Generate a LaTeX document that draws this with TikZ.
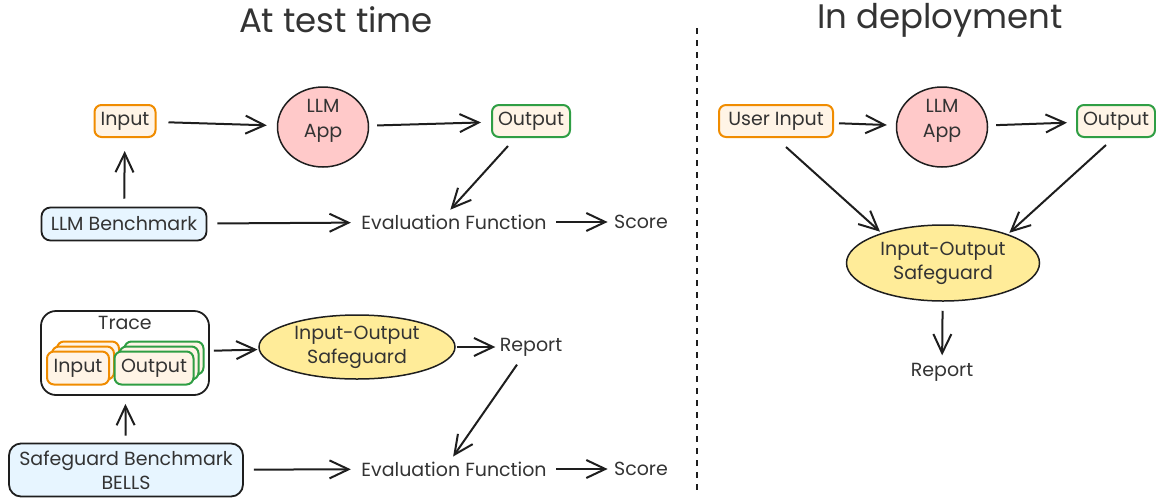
\documentclass[tikz,border=0pt]{standalone}
\usepackage{fontspec}
\setmainfont{Poppins}
\usetikzlibrary{arrows.meta, shapes.geometric}

\definecolor{ink}{HTML}{1E1E1E}
\definecolor{txt}{HTML}{333333}
\definecolor{inorange}{HTML}{F08C00}
\definecolor{outgreen}{HTML}{2F9E44}
\definecolor{cream}{HTML}{FFF4E6}
\definecolor{benchblue}{HTML}{E7F5FF}
\definecolor{apppink}{HTML}{FFC9C9}
\definecolor{guardyellow}{HTML}{FFEC99}

\begin{document}
\begin{tikzpicture}[x=1pt,y=-1pt,
  >={Straight Barb[length=19pt,width=18pt]},
  every node/.style={text=txt, font=\fontsize{19}{24}\selectfont},
  card/.style={rectangle, rounded corners=7pt, line width=2pt, minimum height=32pt, inner sep=2pt, fill=cream},
  inbox/.style={card, draw=inorange},
  outbox/.style={card, draw=outgreen},
  benchbox/.style={rectangle, rounded corners=9pt, line width=1.8pt, draw=ink, fill=benchblue, align=center, inner sep=2pt},
  llmapp/.style={ellipse, draw=ink, line width=1.5pt, fill=apppink, minimum width=91pt, minimum height=80pt, inner sep=0pt},
  applbl/.style={align=center, font=\fontsize{19}{25}\selectfont},
  safeguard/.style={ellipse, draw=ink, line width=1.5pt, fill=guardyellow, align=center, inner sep=0pt},
  flow/.style={->, line width=2pt, draw=ink, shorten >=10pt, shorten <=10pt},
  headline/.style={font=\fontsize{34}{38}\selectfont}]
  \useasboundingbox (0,0) rectangle (1156,499);

  % Titel und Trennlinie
  \node[headline] (testtitle) at (336,20) {At test time};
  \node[headline] (deptitle) at (940,20) {In deployment};
  \coordinate (sepTop) at (697,28);
  \coordinate (sepBot) at (697,491);
  \draw[dashed, line width=1.2pt, draw=ink, dash pattern=on 6pt off 6pt] (sepTop) -- (sepBot);

  % Test: LLM Benchmark
  \node[inbox, minimum width=61pt] (in) at (125,121) {Input};
  \node[llmapp] (app) at (323,127) {};
  \node[applbl] (applbl) at (323,121) {LLM\\App};
  \node[outbox, minimum width=78pt] (out) at (531,121) {Output};
  \node[benchbox, minimum width=165pt, minimum height=33pt] (bench) at (124,224) {LLM Benchmark};
  \node (eval) at (454,222) {Evaluation Function};
  \node (score) at (641,222) {Score};

  \draw[flow, shorten <=12pt] (in) -- (app);
  \draw[flow, shorten <=8pt] (app) -- (out);
  \draw[flow, shorten <=8pt, shorten >=13pt] (bench) -- (in);
  \draw[flow, shorten >=7pt] (bench) -- (eval);
  \draw[flow, shorten <=6pt, shorten >=3pt] (eval) -- (score);
  \draw[flow, shorten <=0pt, shorten >=2pt] ([xshift=-23pt,yshift=-8pt]out.south) -- ([xshift=-5pt]eval.north);

  % Test: Safeguard Benchmark
  \node[draw=ink, line width=1.8pt, rounded corners=15pt, minimum width=168pt, minimum height=84pt] (trace) at (125,353) {};
  \node (tracelbl) at (125,323) {Trace};
  \foreach \k in {2,1,0}
    \node[inbox, minimum width=62pt, minimum height=33pt] (tin\k) at (78+5*\k,368-5*\k) {\ifnum\k=0 Input\fi};
  \foreach \k in {2,1,0}
    \node[outbox, minimum width=79pt, minimum height=33pt] (tout\k) at (154+5*\k,368-5*\k) {\ifnum\k=0 Output\fi};
  \node[safeguard, minimum width=196pt, minimum height=64pt] (guard) at (357,347) {Input-Output\\Safeguard};
  \node (report) at (531,347) {Report};
  \node[benchbox, minimum width=234pt, minimum height=53pt, rounded corners=12pt, font=\fontsize{19}{24}\selectfont] (sbench) at (126,470) {Safeguard Benchmark\\BELLS};
  \node (eval2) at (454,469) {Evaluation Function};
  \node (score2) at (641,469) {Score};

  \draw[flow, shorten <=4pt, shorten >=1pt] (trace) -- (guard);
  \draw[flow, shorten <=1pt, shorten >=1pt] (guard) -- (report);
  \draw[flow, shorten <=7pt, shorten >=8pt] (sbench) -- (trace);
  \draw[flow, shorten >=7pt] (sbench) -- (eval2);
  \draw[flow, shorten <=6pt, shorten >=3pt] (eval2) -- (score2);
  \draw[flow, shorten <=0pt, shorten >=2pt] ([xshift=-14pt,yshift=-5pt]report.south) -- ([xshift=-2pt]eval2.north);

  % Einsatz
  \node[inbox, minimum width=114pt] (uin) at (776,121) {User Input};
  \node[llmapp] (app2) at (942,127) {};
  \node[applbl] (applbl2) at (942,121) {LLM\\App};
  \node[outbox, minimum width=78pt] (out2) at (1116,121) {Output};
  \node[safeguard, minimum width=193pt, minimum height=76pt] (guard2) at (943,263) {Input-Output\\Safeguard};
  \node (report2) at (942,372) {Report};

  \draw[flow, shorten <=5pt, shorten >=9pt] (uin) -- (app2);
  \draw[flow, shorten <=8pt, shorten >=9pt] (app2) -- (out2);
  \draw[flow, shorten <=0pt, shorten >=2pt] ([xshift=10pt,yshift=-9pt]uin.south) -- (guard2.154);
  \draw[flow, shorten <=0pt, shorten >=2pt] ([xshift=-10pt,yshift=-7pt]out2.south) -- (guard2.24);
  \draw[flow, shorten <=9pt, shorten >=4pt] (guard2) -- (report2);
\end{tikzpicture}
\end{document}
